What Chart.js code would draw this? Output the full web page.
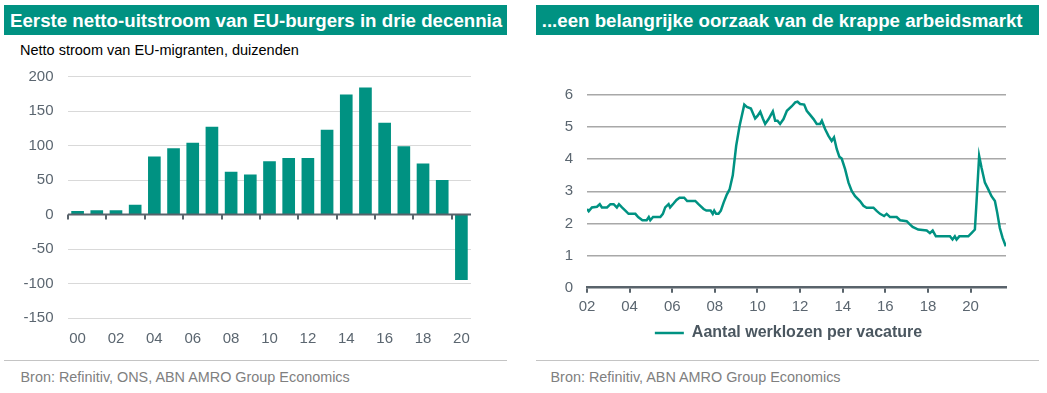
<!DOCTYPE html>
<html lang="nl">
<head>
<meta charset="utf-8">
<title>EU-migranten en krappe arbeidsmarkt</title>
<script src="https://cdn.jsdelivr.net/npm/chart.js@4.4.1/dist/chart.umd.min.js"></script>
<style>
  html, body { margin: 0; padding: 0; background: #fff; }
  body { width: 1047px; height: 393px; position: relative; overflow: hidden; font-family: 'Liberation Sans', Arial, sans-serif; }
  .kop { position: absolute; top: 5px; height: 30px; width: 503px; background: #009282; color: #fff;
         font-weight: bold; font-size: 18.7px; line-height: 31px; white-space: nowrap; box-sizing: border-box; }
  .sub { position: absolute; left: 20px; top: 41.5px; font-size: 14.5px; line-height: 17px; color: #000; white-space: nowrap; }
  .lijn { position: absolute; top: 360px; width: 503px; border-top: 1px solid #c4c4c4; }
  .bron { position: absolute; top: 368.5px; font-size: 14.4px; line-height: 17px; color: #7f7f7f; white-space: nowrap; }
  canvas { position: absolute; }
</style>
</head>
<body>
  <!-- linker paneel -->
  <div class="kop" style="left:4px; padding-left:6px;">Eerste netto-uitstroom van EU-burgers in drie decennia</div>
  <div class="sub">Netto stroom van EU-migranten, duizenden</div>
  <canvas id="stroomChart" width="520" height="302" style="left:0; top:53px;"></canvas>
  <div class="lijn" style="left:4px;"></div>
  <div class="bron" style="left:20.5px;">Bron: Refinitiv, ONS, ABN AMRO Group Economics</div>

  <!-- rechter paneel -->
  <div class="kop" style="left:536px; padding-left:5.7px;">...een belangrijke oorzaak van de krappe arbeidsmarkt</div>
  <canvas id="vacatureChart" width="517" height="291" style="left:530px; top:60px;"></canvas>
  <div class="lijn" style="left:536px;"></div>
  <div class="bron" style="left:550.5px;">Bron: Refinitiv, ABN AMRO Group Economics</div>

<script>
// Netto stroom EU-migranten (duizenden), 2000-2020
const jaren = ['00', '01', '02', '03', '04', '05', '06', '07', '08', '09', '10',
               '11', '12', '13', '14', '15', '16', '17', '18', '19', '20'];
const nettoStroom = [5, 6, 6, 14, 84, 96, 104, 127, 62, 58, 77,
                     82, 82, 123, 174, 184, 133, 99, 74, 50, -95];

const tijdstip = [
  2002.00, 2002.08, 2002.23, 2002.47, 2002.60, 2002.70, 2002.94, 2003.10, 2003.25, 2003.40,
  2003.50, 2003.64, 2003.80, 2003.95, 2004.27, 2004.40, 2004.60, 2004.80, 2004.90, 2004.97,
  2005.10, 2005.44, 2005.56, 2005.67, 2005.83, 2005.90, 2006.06, 2006.20, 2006.34, 2006.56,
  2006.70, 2007.08, 2007.23, 2007.47, 2007.60, 2007.80, 2007.90, 2007.97, 2008.06, 2008.17,
  2008.28, 2008.41, 2008.56, 2008.69, 2008.84, 2009.00, 2009.16, 2009.38, 2009.50, 2009.69,
  2009.89, 2010.00, 2010.13, 2010.25, 2010.36, 2010.52, 2010.72, 2010.83, 2010.94, 2011.06,
  2011.22, 2011.38, 2011.61, 2011.77, 2011.88, 2012.00, 2012.19, 2012.31, 2012.47, 2012.63,
  2012.78, 2012.94, 2013.02, 2013.17, 2013.33, 2013.48, 2013.59, 2013.72, 2013.84, 2013.95,
  2014.11, 2014.27, 2014.42, 2014.58, 2014.81, 2014.97, 2015.12, 2015.44, 2015.59, 2015.75,
  2015.94, 2016.06, 2016.22, 2016.53, 2016.69, 2017.00, 2017.15, 2017.28, 2017.54, 2017.94,
  2018.09, 2018.22, 2018.37, 2019.03, 2019.15, 2019.26, 2019.34, 2019.47, 2019.89, 2020.04,
  2020.20, 2020.28, 2020.40, 2020.51, 2020.67, 2020.83, 2020.98, 2021.14, 2021.25, 2021.37,
  2021.50, 2021.65
];
const werklozenPerVacature = [
  2.45, 2.38, 2.50, 2.52, 2.60, 2.50, 2.50, 2.60, 2.60, 2.50,
  2.60, 2.50, 2.40, 2.30, 2.30, 2.20, 2.10, 2.10, 2.20, 2.10,
  2.20, 2.20, 2.30, 2.50, 2.60, 2.50, 2.62, 2.73, 2.80, 2.80,
  2.70, 2.70, 2.60, 2.45, 2.40, 2.40, 2.30, 2.40, 2.30, 2.30,
  2.40, 2.65, 2.90, 3.06, 3.50, 4.42, 5.04, 5.70, 5.63, 5.58,
  5.27, 5.35, 5.48, 5.27, 5.10, 5.25, 5.49, 5.20, 5.20, 5.10,
  5.25, 5.51, 5.65, 5.77, 5.79, 5.72, 5.70, 5.51, 5.38, 5.25,
  5.10, 5.10, 5.20, 4.94, 4.73, 4.57, 4.68, 4.31, 4.08, 4.02,
  3.69, 3.27, 3.01, 2.85, 2.70, 2.55, 2.49, 2.49, 2.39, 2.30,
  2.23, 2.30, 2.20, 2.20, 2.10, 2.07, 1.97, 1.89, 1.81, 1.78,
  1.70, 1.78, 1.60, 1.60, 1.50, 1.60, 1.50, 1.60, 1.60, 1.70,
  1.81, 2.70, 4.10, 3.74, 3.27, 3.06, 2.85, 2.70, 2.33, 1.86,
  1.55, 1.29
];

const teal = '#009282';
const asKleur = '#59636b';
const tickKleur = '#5b6670';

Chart.defaults.font.family = "'Liberation Sans', Arial, sans-serif";

// nul-lijn met streepjes onder elk even jaar (via de schalen van de grafiek)
const nulLijn = {
  id: 'nulLijn',
  afterDatasetsDraw(chart) {
    const { ctx, chartArea } = chart;
    const x = chart.scales.x;
    const y0 = chart.scales.y.getPixelForValue(0);
    const half = (x.getPixelForValue(1) - x.getPixelForValue(0)) / 2;
    ctx.save();
    ctx.strokeStyle = asKleur;
    ctx.lineWidth = 2;
    ctx.beginPath();
    ctx.moveTo(chartArea.left, y0);
    ctx.lineTo(chartArea.right, y0);
    for (let i = 0; i < jaren.length; i += 2) {
      const xp = Math.round(x.getPixelForValue(i) - half);
      ctx.moveTo(xp, y0);
      ctx.lineTo(xp, y0 + 5);
    }
    ctx.stroke();
    ctx.restore();
  }
};

// Linker grafiek: staafdiagram
new Chart(document.getElementById('stroomChart'), {
  type: 'bar',
  data: {
    labels: jaren,
    datasets: [{
      label: 'Netto stroom van EU-migranten',
      data: nettoStroom,
      backgroundColor: teal,
      barPercentage: 0.66,
      categoryPercentage: 1
    }]
  },
  plugins: [nulLijn],
  options: {
    responsive: false,
    animation: false,
    layout: { padding: { top: 17, right: 49, left: 0, bottom: 0 } },
    plugins: { legend: { display: false }, tooltip: { enabled: false } },
    scales: {
      x: {
        offset: true,
        grid: { display: false },
        border: { display: false },
        ticks: {
          color: tickKleur,
          font: { size: 15 },
          padding: 4,
          autoSkip: false,
          maxRotation: 0,
          callback: (v, i) => (i % 2 === 0 ? jaren[i] : '')
        },
        afterFit: s => { s.height = 37; }
      },
      y: {
        min: -150,
        max: 200,
        ticks: { stepSize: 50, color: tickKleur, font: { size: 15 }, padding: 14.5 },
        grid: { color: '#d9d9d9', lineWidth: 1, drawTicks: false },
        border: { display: false },
        afterFit: s => { s.width = 68; }
      }
    }
  }
});

// Rechter grafiek: lijn
new Chart(document.getElementById('vacatureChart'), {
  type: 'line',
  data: {
    datasets: [{
      label: 'Aantal werklozen per vacature',
      data: tijdstip.map((t, i) => ({ x: t, y: werklozenPerVacature[i] })),
      borderColor: teal,
      backgroundColor: teal,
      borderWidth: 2.5,
      pointRadius: 0,
      tension: 0
    }]
  },
  options: {
    responsive: false,
    animation: false,
    layout: { padding: { top: 35, right: 0, left: 0, bottom: 0 } },
    plugins: {
      tooltip: { enabled: false },
      legend: {
        position: 'bottom',
        labels: {
          usePointStyle: true,
          pointStyle: 'line',
          pointStyleWidth: 29,
          padding: 10,
          color: '#4b5760',
          font: { size: 16, weight: 'bold' }
        }
      }
    },
    scales: {
      x: {
        type: 'linear',
        min: 2002,
        max: 2021.66,
        ticks: {
          stepSize: 2,
          includeBounds: false,
          color: tickKleur,
          font: { size: 15 },
          padding: 5,
          maxRotation: 0,
          callback: v => String(v % 100).padStart(2, '0')
        },
        grid: { drawOnChartArea: false, drawTicks: true, tickLength: 5, lineWidth: 2, color: asKleur },
        border: { display: true, color: asKleur, width: 2.5 },
        afterFit: s => { s.height = 27.3; }
      },
      y: {
        min: 0,
        max: 6,
        ticks: { stepSize: 1, color: tickKleur, font: { size: 15 }, padding: 14 },
        grid: {
          color: ctx => (ctx.tick && ctx.tick.value === 0 ? 'rgba(0,0,0,0)' : '#a8a8a8'),
          lineWidth: 1.5,
          drawTicks: false
        },
        border: { display: false },
        afterFit: s => { s.width = 57; }
      },
      // lege as rechts zodat de legenda over de volle breedte centreert
      y2: {
        position: 'right',
        ticks: { display: false },
        grid: { display: false },
        border: { display: false },
        afterFit: s => { s.width = 41; }
      }
    }
  }
});
</script>
</body>
</html>
